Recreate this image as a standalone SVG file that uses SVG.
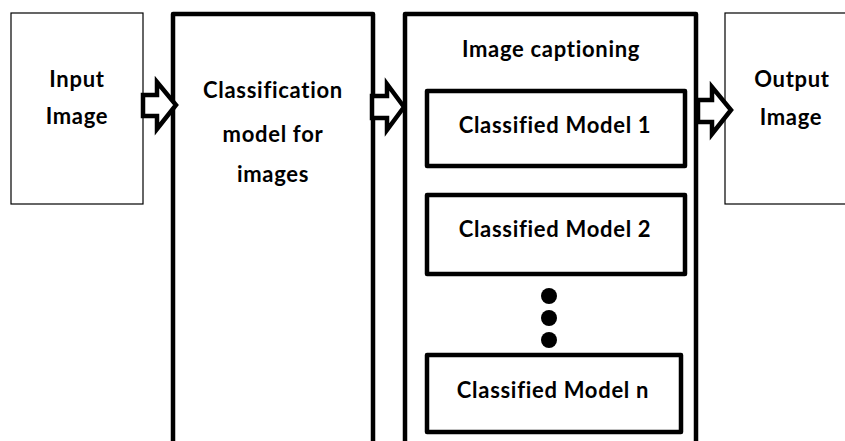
<svg xmlns="http://www.w3.org/2000/svg" width="845" height="441" viewBox="0 0 845 441">
<style>
.thin{fill:#fff;stroke:#000;stroke-width:1.2}
.thick{fill:#fff;stroke:#000;stroke-width:4.5;stroke-linejoin:round}
.arrow{fill:#fff;stroke:#000;stroke-width:4.5;stroke-linejoin:miter}
text{font-family:Lato,"Open Sans","Liberation Sans",sans-serif;font-weight:bold;font-size:22px;letter-spacing:0.7px;font-variant-ligatures:none;text-anchor:middle;fill:#000}
</style>
<rect width="845" height="441" fill="#fff"/>
<g id="input">
<rect class="thin" x="11" y="13" width="132" height="191"/>
<text x="77" y="87">Input</text>
<text x="77" y="124">Image</text>
</g>
<g id="classification">
<rect class="thick" x="173" y="14" width="200" height="450"/>
<text x="273" y="98">Classification</text>
<text x="273" y="142">model for</text>
<text x="273" y="182">images</text>
</g>
<g id="captioning">
<rect class="thick" x="405" y="14" width="291" height="450"/>
<text x="551" y="57">Image captioning</text>
<g id="model1">
<rect class="thick" x="427" y="91" width="258" height="75"/>
<text x="555" y="133">Classified Model 1</text>
</g>
<g id="model2">
<rect class="thick" x="427" y="195" width="258" height="79"/>
<text x="555" y="237">Classified Model 2</text>
</g>
<g id="dots">
<circle cx="549" cy="296" r="8"/>
<circle cx="549" cy="318" r="8"/>
<circle cx="549" cy="340" r="8"/>
</g>
<g id="modeln">
<rect class="thick" x="427" y="355" width="254" height="77"/>
<text x="553" y="398">Classified Model n</text>
</g>
</g>
<g id="output">
<rect class="thin" x="725" y="13" width="140" height="191"/>
<text x="792" y="87">Output</text>
<text x="791" y="125">Image</text>
</g>
<g id="connectors">
<path class="arrow" d="M143,95 L157,95 L157,82 L176,105 L157,129 L157,116 L143,116 Z"/>
<path class="arrow" d="M372,96 L387,96 L387,84 L404,107 L387,130 L387,118 L372,118 Z"/>
<path class="arrow" d="M698,100 L712,100 L712,87 L731,110 L712,134 L712,122 L698,122 Z"/>
</g>
</svg>
